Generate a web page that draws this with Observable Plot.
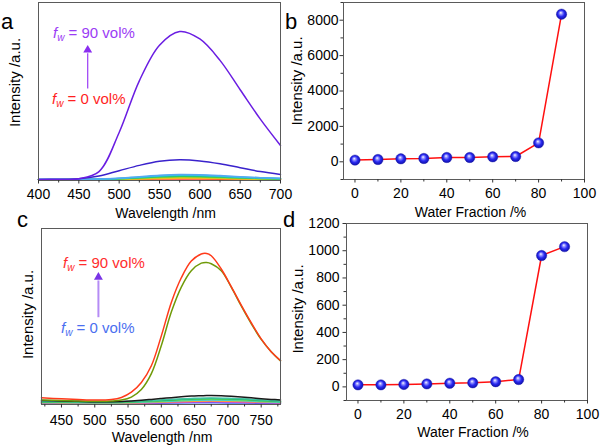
<!DOCTYPE html>
<html><head><meta charset="utf-8">
<script src="https://cdn.jsdelivr.net/npm/d3@7"></script>
<script src="https://cdn.jsdelivr.net/npm/@observablehq/plot@0.6"></script>
<style>
body{margin:0;background:#fff;}
#fig{position:relative;width:600px;height:447px;font-family:"Liberation Sans",Arial,sans-serif;overflow:hidden;background:#fff}
.panel{position:absolute}
.panel svg{display:block;overflow:visible}
.letter{position:absolute;font-size:22px;line-height:1;color:#000}
.note{position:absolute;font-size:15px;white-space:nowrap;line-height:1}
.note sub{font-size:10px;vertical-align:-3px;font-style:italic}
</style></head><body><div id="fig"></div>
<script>
// ---------- Panel a: PL spectra (arbitrary intensity) ----------
const waveA = [400,425,450,475,500,525,550,575,600,625,650,675,700];
const fractionsA = [0,10,20,30,40,50,60,70,80,90];
const colorsA = ["#ff3030","#ff9a20","#e6d21a","#9ccc30","#2ecc50","#22c4a8","#30c6e6","#55a8f2","#3a22cc","#6a1de2"];
const spectraA = [
  [0.4,0.4,0.4,0.45,0.5,0.65,0.8,0.9,0.85,0.75,0.65,0.55,0.5],
  [0.4,0.4,0.45,0.5,0.6,0.8,1.05,1.2,1.15,1.0,0.85,0.7,0.6],
  [0.4,0.4,0.45,0.55,0.7,1.05,1.4,1.6,1.5,1.3,1.05,0.85,0.7],
  [0.45,0.45,0.5,0.6,0.85,1.3,1.75,2.0,1.9,1.6,1.3,1.0,0.8],
  [0.45,0.45,0.5,0.65,0.95,1.5,2.1,2.4,2.3,1.95,1.5,1.15,0.9],
  [0.5,0.5,0.55,0.75,1.1,1.75,2.45,2.8,2.7,2.3,1.75,1.35,1.05],
  [0.5,0.5,0.55,0.8,1.2,1.9,2.7,3.1,3.0,2.5,1.95,1.5,1.15],
  [0.5,0.5,0.6,0.85,1.3,2.1,2.95,3.4,3.25,2.75,2.1,1.6,1.25],
  [0.6,0.7,1.0,2.5,5.5,8.5,10.8,11.6,11.0,9.4,7.2,5.0,3.4],
  [0.5,0.6,1.0,5.0,27,56,76,83.7,79.5,67.5,51,34.5,19.7]
];
const ticksAMajor = [400,450,500,550,600,650,700];
const ticksAMinor = [425,475,525,575,625,675];

// ---------- Panel b: intensity vs water fraction ----------
const waterB = [0,10,20,30,40,50,60,70,80,90];
const intensityB = [96,130,169,188,244,244,282,300,1070,8340];
const ticksBX = [0,20,40,60,80,100];
const ticksBXMinor = [10,30,50,70,90];
const ticksBY = [0,2000,4000,6000,8000];
const ticksBYMinor = [-1000,1000,3000,5000,7000,9000];

// ---------- Panel c: PL spectra ----------
const waveC = [420,450,475,500,525,540,555,570,585,600,615,630,645,660,668,675,690,705,720,735,750,765,779];
const waveCSmall = [420,450,500,550,600,650,675,700,750,779];
const fractionsCSmall = [0,10,20,30,40,50,60];
const colorsCSmall = ["#3a5cff","#d24ad2","#ff9a3a","#30cfe0","#66e066","#22b055","#40c4a4"];
const spectraCSmall = [
  [0.6,0.6,0.5,0.5,0.7,1.0,1.0,0.9,0.7,0.6],
  [0.8,0.8,0.7,0.7,1.0,1.4,1.5,1.4,1.0,0.8],
  [1.0,0.9,0.8,0.9,1.3,1.9,2.0,1.9,1.4,1.1],
  [1.2,1.1,1.0,1.1,1.7,2.4,2.5,2.4,1.7,1.3],
  [1.4,1.3,1.2,1.3,2.0,2.8,3.0,2.8,2.0,1.5],
  [1.6,1.5,1.3,1.5,2.3,3.2,3.4,3.2,2.3,1.7],
  [1.8,1.7,1.5,1.7,2.6,3.5,3.7,3.5,2.6,1.9]
];
const fractionsCMain = [70,80,90];
const colorsCMain = ["#1a1a1a","#6f9a08","#ff3a1a"];
const spectraCMain = [
  [2.3,2.0,1.8,1.6,1.6,1.7,2.0,2.4,2.9,3.4,3.9,4.4,4.8,5.0,5.1,5.1,5.0,4.7,4.3,3.8,3.3,2.9,2.6],
  [2.5,2.3,2.0,1.9,2.0,2.5,4.2,8.5,17.5,33.5,52.5,66.7,76,80.3,80.7,80,76,66.7,56,46,37,30,24.8],
  [3.8,3.2,2.8,2.5,2.8,4.0,7.0,12.5,22,39,58,72,81.5,85.5,85.8,84.5,77,67,56.5,46.5,37.3,30,25]
];
const ticksCMajor = [450,500,550,600,650,700,750];
const ticksCMinor = [425,475,525,575,625,675,725,775];

// ---------- Panel d ----------
const waterD = [0,10,20,30,40,50,60,70,80,90];
const intensityD = [15,15,18,22,27,30,38,54,965,1030];
const ticksDY = [0,200,400,600,800,1000,1200];
const ticksDYMinor = [-100,100,300,500,700,900,1100];

// ---------- text ----------
const labelWave = "Wavelength /nm";
const labelWater = "Water Fraction /%";
const labelInt = "Intensity /a.u.";

const FONT = '"Liberation Sans", Arial, sans-serif';
const styleBase = {fontFamily: FONT, fontSize: "14px", background: "transparent", overflow: "visible"};
const FRAME = "#5a5a5a";
const fmt = d3.format("d");

function xAxes(major, minor, pad) {
  return [
    Plot.axisX({ticks: major, tickSize: 3.5, tickPadding: pad, tickFormat: fmt, label: null, stroke: "#333", fontSize: 14}),
    Plot.axisX({ticks: minor, tickSize: 2.5, tickFormat: () => "", label: null, stroke: "#333"})
  ];
}
function yAxes(major, minor, pad) {
  return [
    Plot.axisY({ticks: major, tickSize: 3.5, tickPadding: pad, tickFormat: fmt, label: null, stroke: "#333", fontSize: 14}),
    Plot.axisY({ticks: minor, tickSize: 2.5, tickFormat: () => "", label: null, stroke: "#333"})
  ];
}
function titles(xl, yl, xdx, xdy, ydx, ydy) {
  return [
    Plot.text([xl], {frameAnchor: "bottom", dx: xdx, dy: xdy, text: d => d, fontSize: 14, textAnchor: "middle", lineAnchor: "middle"}),
    Plot.text([yl], {frameAnchor: "left", rotate: -90, dx: ydx, dy: ydy, text: d => d, fontSize: 15, textAnchor: "middle", lineAnchor: "middle"})
  ];
}

const fig = document.getElementById("fig");
function place(el, left, top) {
  const d = document.createElement("div");
  d.className = "panel";
  d.style.left = left + "px";
  d.style.top = top + "px";
  d.appendChild(el);
  fig.appendChild(d);
  return el;
}

// Panel a
const dataA = spectraA.flatMap((vals, i) => vals.map((v, j) => ({fw: fractionsA[i], wl: waveA[j], I: v})));
const arrowA = [{x: 461, y1: 51.7, y2: 71.5, yh: 73.3}];
place(Plot.plot({
  width: 300, height: 220, marginLeft: 38, marginRight: 20, marginTop: 2, marginBottom: 40,
  style: styleBase,
  x: {domain: [400, 700]},
  y: {domain: [0, 100], axis: null},
  color: {type: "ordinal", domain: fractionsA, range: colorsA},
  marks: [
    Plot.line(dataA, {x: "wl", y: "I", z: "fw", stroke: "fw", strokeWidth: 1.5, curve: "catmull-rom"}),
    Plot.link(arrowA, {x1: "x", x2: "x", y1: "y1", y2: "y2", stroke: "#9b3cf5", strokeWidth: 1.2}),
    Plot.dot(arrowA, {x: "x", y: "yh", symbol: "triangle", r: 3.3, fill: "#8a2ef0", stroke: "none"}),
    Plot.frame({stroke: FRAME}),
    ...xAxes(ticksAMajor, ticksAMinor, 5),
    ...titles(labelWave, labelInt, 6, 33, -23, -9)
  ]
}), 0, 0);

// Panel b
const dataB = waterB.map((w, i) => ({w, I: intensityB[i]}));
const svgB = place(Plot.plot({
  width: 300, height: 220, marginLeft: 43, marginRight: 16, marginTop: 2, marginBottom: 41,
  style: styleBase,
  x: {domain: [-5, 100]},
  y: {domain: [-1000, 9000]},
  marks: [
    Plot.line(dataB, {x: "w", y: "I", stroke: "#ff1010", strokeWidth: 1.5}),
    Plot.dot(dataB, {x: "w", y: "I", r: 5.2, fill: "url(#ballB)", stroke: "#1a1ab0", strokeWidth: 0.4}),
    Plot.frame({stroke: FRAME}),
    ...xAxes(ticksBX, ticksBXMinor, 5),
    ...yAxes(ticksBY, ticksBYMinor, 1.5),
    ...titles(labelWater, labelInt, 6.5, 33.5, -46, -10)
  ]
}), 300, 0);

// Panel c
const dataC = [
  ...spectraCSmall.flatMap((vals, i) => vals.map((v, j) => ({fw: fractionsCSmall[i], wl: waveCSmall[j], I: v}))),
  ...spectraCMain.flatMap((vals, i) => vals.map((v, j) => ({fw: fractionsCMain[i], wl: waveC[j], I: v})))
];
const arrowC = [{x: 505.5, y1: 49.6, y2: 70.5, yh: 72.3}];
place(Plot.plot({
  width: 300, height: 227, marginLeft: 41, marginRight: 20, marginTop: 8, marginBottom: 43,
  style: styleBase,
  x: {domain: [420, 779]},
  y: {domain: [0, 100], axis: null},
  color: {type: "ordinal", domain: [...fractionsCSmall, ...fractionsCMain], range: [...colorsCSmall, ...colorsCMain]},
  marks: [
    Plot.line(dataC, {x: "wl", y: "I", z: "fw", stroke: "fw", strokeWidth: 1.5, curve: "catmull-rom"}),
    Plot.link(arrowC, {x1: "x", x2: "x", y1: "y1", y2: "y2", stroke: "#b58cf5", strokeWidth: 2}),
    Plot.dot(arrowC, {x: "x", y: "yh", symbol: "triangle", r: 3.3, fill: "#7a34e6", stroke: "none"}),
    Plot.frame({stroke: FRAME}),
    ...xAxes(ticksCMajor, ticksCMinor, 7),
    ...titles(labelWave, labelInt, 1, 33, -13, -2)
  ]
}), 0, 220);

// Panel d
const dataD = waterD.map((w, i) => ({w, I: intensityD[i]}));
const svgD = place(Plot.plot({
  width: 300, height: 227, marginLeft: 46, marginRight: 13, marginTop: 3, marginBottom: 47,
  style: styleBase,
  x: {domain: [-5, 100]},
  y: {domain: [-100, 1200]},
  marks: [
    Plot.line(dataD, {x: "w", y: "I", stroke: "#ff1010", strokeWidth: 1.5}),
    Plot.dot(dataD, {x: "w", y: "I", r: 5.2, fill: "url(#ballD)", stroke: "#1a1ab0", strokeWidth: 0.4}),
    Plot.frame({stroke: FRAME}),
    ...xAxes(ticksBX, ticksBXMinor, 5),
    ...yAxes(ticksDY, ticksDYMinor, 3.5),
    ...titles(labelWater, labelInt, 6, 32.5, -48, -3)
  ]
}), 300, 220);

// radial gradient for the ball markers
function addBall(svg, id) {
  const defs = d3.select(svg).insert("defs", ":first-child");
  const g = defs.append("radialGradient").attr("id", id)
    .attr("cx", "50%").attr("cy", "50%").attr("r", "55%").attr("fx", "42%").attr("fy", "35%");
  g.append("stop").attr("offset", "0%").attr("stop-color", "#ffffff");
  g.append("stop").attr("offset", "22%").attr("stop-color", "#9a9aff");
  g.append("stop").attr("offset", "55%").attr("stop-color", "#2a2af2");
  g.append("stop").attr("offset", "100%").attr("stop-color", "#0a0a9a");
}
addBall(svgB, "ballB");
addBall(svgD, "ballD");

// letters and annotation notes
const html = [
  '<div class="letter" style="left:1px;top:11px">a</div>',
  '<div class="letter" style="left:285px;top:11px">b</div>',
  '<div class="letter" style="left:17px;top:209px">c</div>',
  '<div class="letter" style="left:283px;top:209px">d</div>',
  '<div class="note" style="left:53px;top:25px;color:#9b3cf5"><i>f</i><sub>w</sub> = 90 vol%</div>',
  '<div class="note" style="left:52px;top:91px;color:#ff1f1f"><i>f</i><sub>w</sub> = 0 vol%</div>',
  '<div class="note" style="left:63px;top:255px;color:#ff2d2d"><i>f</i><sub>w</sub> = 90 vol%</div>',
  '<div class="note" style="left:61px;top:320px;color:#4b6ff0"><i>f</i><sub>w</sub> = 0 vol%</div>'
];
fig.insertAdjacentHTML("beforeend", html.join(""));
</script></body></html>
